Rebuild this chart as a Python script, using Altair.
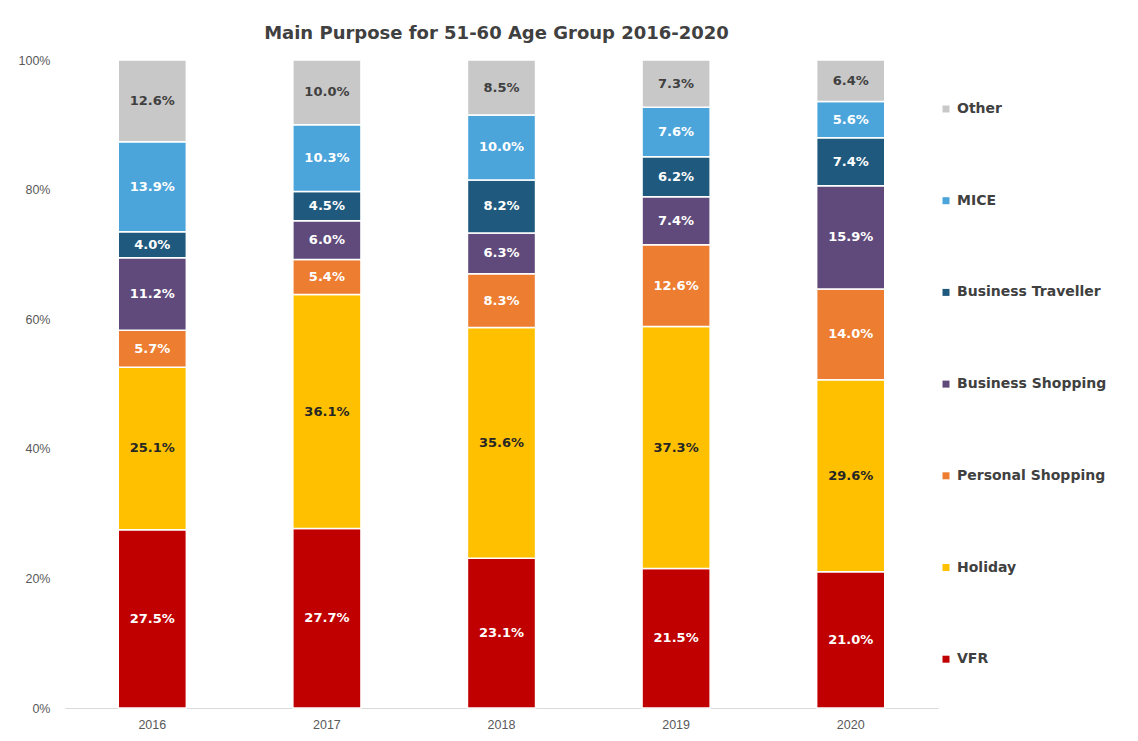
import altair as alt
import pandas as pd

years = ["2016", "2017", "2018", "2019", "2020"]
categories = ["VFR", "Holiday", "Personal Shopping", "Business Shopping",
              "Business Traveller", "MICE", "Other"]
vfr = [27.5, 27.7, 23.1, 21.5, 21.0]
holiday = [25.1, 36.1, 35.6, 37.3, 29.6]
personal_shopping = [5.7, 5.4, 8.3, 12.6, 14.0]
business_shopping = [11.2, 6.0, 6.3, 7.4, 15.9]
business_traveller = [4.0, 4.5, 8.2, 6.2, 7.4]
mice = [13.9, 10.3, 10.0, 7.6, 5.6]
other = [12.6, 10.0, 8.5, 7.3, 6.4]
colors = ["#C00000", "#FFC000", "#ED7D31", "#604A7B", "#1F5A7E", "#4BA5DA", "#C8C8C8"]
label_colors = ["white", "#262626", "white", "white", "white", "white", "#404040"]

series = [vfr, holiday, personal_shopping, business_shopping,
          business_traveller, mice, other]
rows = []
for i, (cat, vals) in enumerate(zip(categories, series)):
    for y, v in zip(years, vals):
        rows.append({"year": y, "cat": cat, "value": v, "order": i,
                     "label": f"{v:.1f}%"})
df = pd.DataFrame(rows)

legend_order = categories[::-1]
color_scale = alt.Scale(domain=legend_order, range=colors[::-1])
label_scale = alt.Scale(domain=categories, range=label_colors)

base = alt.Chart(df).transform_stack(
    stack="value", groupby=["year"], as_=["y0", "y1"], offset="normalize",
    sort=[alt.SortField("order", order="ascending")]
).transform_calculate(mid="(datum.y0 + datum.y1) / 2")

x_enc = alt.X("year:N", title=None,
              scale=alt.Scale(paddingInner=0.61, paddingOuter=0.305),
              axis=alt.Axis(labelAngle=0, ticks=False, domainColor="#D9D9D9",
                            domainWidth=1, labelPadding=10, labelFontSize=12.5,
                            labelColor="#595959", labelFont="Liberation Sans"))

bars = base.mark_bar(stroke="white", strokeWidth=1.5).encode(
    x=x_enc,
    y=alt.Y("y0:Q", title=None,
            scale=alt.Scale(domain=[0, 1], nice=False),
            axis=alt.Axis(format=".0%", values=[0, 0.2, 0.4, 0.6, 0.8, 1.0],
                          grid=False, domain=False, ticks=False, labelPadding=15,
                          labelFontSize=12.5, labelColor="#595959",
                          labelFont="Liberation Sans")),
    y2="y1:Q",
    color=alt.Color("cat:N", scale=color_scale, sort=legend_order,
                    legend=alt.Legend(title=None, orient="none", legendX=874,
                                      legendY=42, symbolType="square",
                                      symbolSize=49, symbolStrokeWidth=0,
                                      labelFontSize=14, labelFontWeight="bold",
                                      labelColor="#404040", labelFont="DejaVu Sans",
                                      rowPadding=77.7, labelOffset=4)),
)

texts = base.mark_text(font="DejaVu Sans", fontSize=13, fontWeight="bold",
                       baseline="middle").encode(
    x="year:N",
    y="mid:Q",
    text="label:N",
    color=alt.Color("cat:N", scale=label_scale, legend=None),
)

chart = alt.layer(bars, texts).resolve_scale(color="independent").properties(
    width=873, height=648,
    padding={"left": 10, "top": 17, "right": 10, "bottom": 5},
    title=alt.TitleParams("Main Purpose for 51-60 Age Group 2016-2020",
                          font="DejaVu Sans", fontSize=18, fontWeight="bold",
                          color="#404040", frame="group", anchor="middle",
                          offset=11, dx=-5),
).configure_view(stroke=None)

chart.save("out.html", embed_options={"renderer": "svg", "actions": False})
